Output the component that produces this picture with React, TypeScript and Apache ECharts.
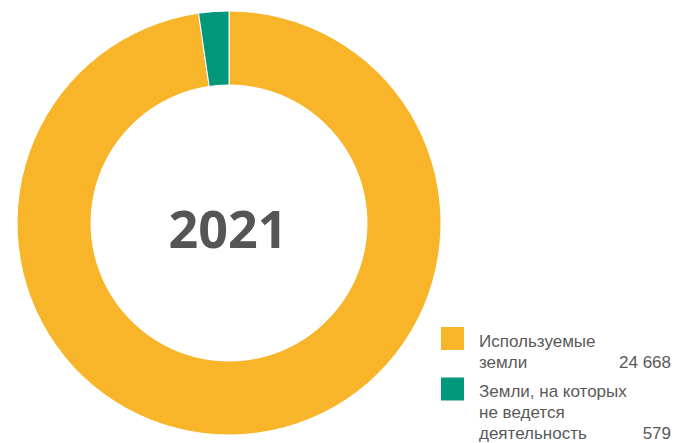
import React, { useEffect, useRef } from "react";
import * as echarts from "echarts";

const categories: string[][] = [
  ["Используемые", "земли"],
  ["Земли, на которых", "не ведется", "деятельность"],
];
const values: number[] = [24668, 579];
const colors: string[] = ["#F8B52A", "#00977A"];
const centerTitle = "2021";

const fmt = (v: number) => String(v).replace(/\B(?=(\d{3})+(?!\d))/g, " ");

export default function App() {
  const ref = useRef<HTMLDivElement>(null);
  useEffect(() => {
    if (!ref.current) return;
    const chart = echarts.init(ref.current, undefined, { renderer: "svg" });
    const textColor = "#595959";
    const font = "'Liberation Sans', Arial, sans-serif";
    const graphics: any[] = [];
    const blockTops = [341, 391.5];
    const lineH = 21;
    categories.forEach((lines, i) => {
      const top = blockTops[i];
      graphics.push({
        type: "rect",
        shape: { x: 441, y: top - 14, width: 23, height: 23 },
        style: { fill: colors[i] },
      });
      lines.forEach((ln, j) => {
        graphics.push({
          type: "text",
          x: 479,
          y: top + j * lineH,
          style: {
            text: ln,
            fill: textColor,
            font: `17px ${font}`,
            lineHeight: 17,
            textAlign: "left",
            textVerticalAlign: "middle",
          },
        });
      });
      graphics.push({
        type: "text",
        x: 671,
        y: top + (lines.length - 1) * lineH,
        style: {
          text: fmt(values[i]),
          fill: textColor,
          font: `17px ${font}`,
          lineHeight: 17,
          textAlign: "right",
          textVerticalAlign: "middle",
        },
      });
    });
    graphics.push({
      type: "text",
      x: 228,
      y: 227,
      style: {
        text: centerTitle,
        fill: "#555555",
        font: `bold 52px 'Open Sans', sans-serif`,
        textAlign: "center",
        textVerticalAlign: "middle",
      },
    });
    chart.setOption({
      animation: false,
      graphic: graphics,
      series: [
        {
          type: "pie",
          center: [229, 223],
          radius: [138, 212],
          startAngle: 90,
          clockwise: true,
          silent: true,
          label: { show: false },
          labelLine: { show: false },
          itemStyle: { borderColor: "#ffffff", borderWidth: 1 },
          data: values.map((v, i) => ({
            value: v,
            name: categories[i].join(" "),
            itemStyle: { color: colors[i] },
          })),
        },
      ],
    });
    return () => chart.dispose();
  }, []);
  return (
    <div
      ref={ref}
      style={{ position: "fixed", left: 0, top: 0, width: 674, height: 443, background: "#fff" }}
    />
  );
}
